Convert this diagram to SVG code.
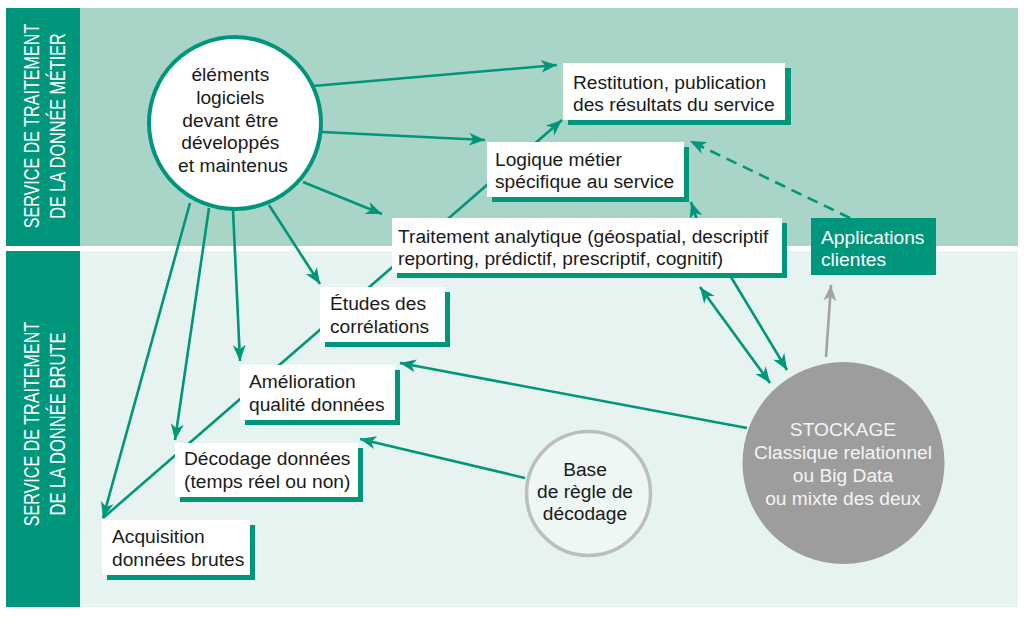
<svg xmlns="http://www.w3.org/2000/svg" width="1024" height="628" viewBox="0 0 1024 628">
<style>
  .t{font-family:"Liberation Sans",Arial,sans-serif;font-size:19.2px;fill:#1a1a1a}
  .tw{font-family:"Liberation Sans",Arial,sans-serif;font-size:19.2px;fill:#ffffff}
  .tg{font-family:"Liberation Sans",Arial,sans-serif;font-size:19.2px;fill:#f4f4f4}
  .lab{font-family:"Liberation Sans",Arial,sans-serif;font-size:21.5px;fill:#ffffff}
  .box{fill:#ffffff}
  .sh{fill:#00967b}
  .ca{fill:none;stroke:#00967b;stroke-width:2.6;marker-end:url(#ah)}
</style>
<defs>
  <marker id="ah" markerUnits="userSpaceOnUse" markerWidth="17" markerHeight="14" refX="16" refY="7" orient="auto-start-reverse">
    <path d="M0,0.5 L16,7 L0,13.5 L4.5,7 z" fill="#00967b"/>
  </marker>
  <marker id="ahg" markerUnits="userSpaceOnUse" markerWidth="17" markerHeight="14" refX="16" refY="7" orient="auto">
    <path d="M0,0.5 L16,7 L0,13.5 L4.5,7 z" fill="#a3a3a3"/>
  </marker>
</defs>

<g id="background">
  <rect x="80" y="8" width="938" height="238" fill="#a8d5c8"/>
  <rect x="80" y="251" width="938" height="356" fill="#e6f3f0"/>
</g>

<g id="lane-metier">
  <rect x="6" y="8" width="74" height="238" fill="#00967b"/>
  <text class="lab" text-anchor="middle" transform="translate(39,126) rotate(-90) scale(0.75,1)">SERVICE DE TRAITEMENT</text>
  <text class="lab" text-anchor="middle" transform="translate(65,126) rotate(-90) scale(0.755,1)">DE LA DONNÉE MÉTIER</text>
</g>
<g id="lane-brute">
  <rect x="6" y="251" width="74" height="356" fill="#00967b"/>
  <text class="lab" text-anchor="middle" transform="translate(39,424) rotate(-90) scale(0.75,1)">SERVICE DE TRAITEMENT</text>
  <text class="lab" text-anchor="middle" transform="translate(65,424) rotate(-90) scale(0.77,1)">DE LA DONNÉE BRUTE</text>
</g>

<g id="connectors">
  <line class="ca" x1="313" y1="86" x2="557" y2="65"/>
  <line class="ca" x1="322" y1="132" x2="485" y2="140"/>
  <line class="ca" x1="303" y1="182" x2="382" y2="214"/>
  <line class="ca" x1="269" y1="205" x2="320" y2="284"/>
  <line class="ca" x1="233" y1="210" x2="240" y2="361"/>
  <line class="ca" x1="209" y1="208" x2="175" y2="440"/>
  <line class="ca" x1="190" y1="203" x2="103" y2="518"/>
  <line class="ca" x1="103" y1="518" x2="562" y2="120"/>
  <line class="ca" x1="747" y1="428" x2="400" y2="363"/>
  <line class="ca" x1="525" y1="478" x2="360" y2="439"/>
  <line class="ca" x1="700" y1="287" x2="770" y2="383" marker-start="url(#ah)"/>
  <line class="ca" x1="731" y1="277" x2="787" y2="370"/>
  <line class="ca" x1="697" y1="220" x2="691" y2="202"/>
  <line class="ca" x1="850" y1="218" x2="690" y2="141" stroke-dasharray="11,7"/>
  <line x1="826" y1="357" x2="831" y2="285" stroke="#a3a3a3" stroke-width="2.6" marker-end="url(#ahg)"/>
</g>

<g id="elements-logiciels">
  <circle cx="235" cy="123" r="86" fill="#ffffff" stroke="#00967b" stroke-width="4"/>
  <text class="t" text-anchor="middle">
    <tspan x="233" y="81">éléments</tspan>
    <tspan x="233" y="104">logiciels</tspan>
    <tspan x="233" y="127">devant être</tspan>
    <tspan x="233" y="149">développés</tspan>
    <tspan x="233" y="172">et maintenus</tspan>
  </text>
</g>

<g id="restitution">
  <rect class="sh" x="568" y="68" width="223" height="57"/>
  <rect class="box" x="563" y="63" width="222" height="57"/>
  <text class="t"><tspan x="573" y="89">Restitution, publication</tspan><tspan x="573" y="111">des résultats du service</tspan></text>
</g>

<g id="logique-metier">
  <rect class="sh" x="492" y="147" width="197" height="55"/>
  <rect class="box" x="487" y="142" width="197" height="55"/>
  <text class="t"><tspan x="495" y="166">Logique métier</tspan><tspan x="495" y="188">spécifique au service</tspan></text>
</g>

<g id="traitement-analytique">
  <rect class="sh" x="397" y="223" width="390" height="55"/>
  <rect class="box" x="392" y="218" width="390" height="55"/>
  <text class="t"><tspan x="398" y="243">Traitement analytique (géospatial, descriptif</tspan><tspan x="398" y="265">reporting, prédictif, prescriptif, cognitif)</tspan></text>
</g>

<g id="applications-clientes">
  <rect x="811" y="218" width="125" height="57" fill="#00967b"/>
  <text class="tw"><tspan x="821" y="244">Applications</tspan><tspan x="821" y="266">clientes</tspan></text>
</g>

<g id="etudes-correlations">
  <rect class="sh" x="325" y="292" width="125" height="55"/>
  <rect class="box" x="320" y="287" width="125" height="55"/>
  <text class="t"><tspan x="330" y="310">Études des</tspan><tspan x="330" y="333">corrélations</tspan></text>
</g>

<g id="amelioration-qualite">
  <rect class="sh" x="245" y="370" width="155" height="55"/>
  <rect class="box" x="240" y="365" width="155" height="55"/>
  <text class="t"><tspan x="249" y="388">Amélioration</tspan><tspan x="249" y="411">qualité données</tspan></text>
</g>

<g id="decodage-donnees">
  <rect class="sh" x="180" y="448" width="183" height="54"/>
  <rect class="box" x="175" y="443" width="183" height="54"/>
  <text class="t"><tspan x="184" y="465">Décodage données</tspan><tspan x="184" y="488">(temps réel ou non)</tspan></text>
</g>

<g id="acquisition">
  <rect class="sh" x="107" y="525" width="148" height="55"/>
  <rect class="box" x="102" y="520" width="148" height="55"/>
  <text class="t"><tspan x="112" y="543">Acquisition</tspan><tspan x="112" y="566">données brutes</tspan></text>
</g>

<g id="base-regle">
  <circle cx="588.5" cy="493.5" r="62" fill="#eef7f4" stroke="#bdbdbd" stroke-width="3.5"/>
  <text class="t" text-anchor="middle"><tspan x="585" y="476">Base</tspan><tspan x="585" y="498">de règle de</tspan><tspan x="585" y="520">décodage</tspan></text>
</g>

<g id="stockage">
  <circle cx="843.5" cy="463" r="101" fill="#9d9d9d"/>
  <text class="tg" text-anchor="middle"><tspan x="843" y="436">STOCKAGE</tspan><tspan x="843" y="459">Classique relationnel</tspan><tspan x="843" y="482">ou Big Data</tspan><tspan x="843" y="505">ou mixte des deux</tspan></text>
</g>
</svg>
